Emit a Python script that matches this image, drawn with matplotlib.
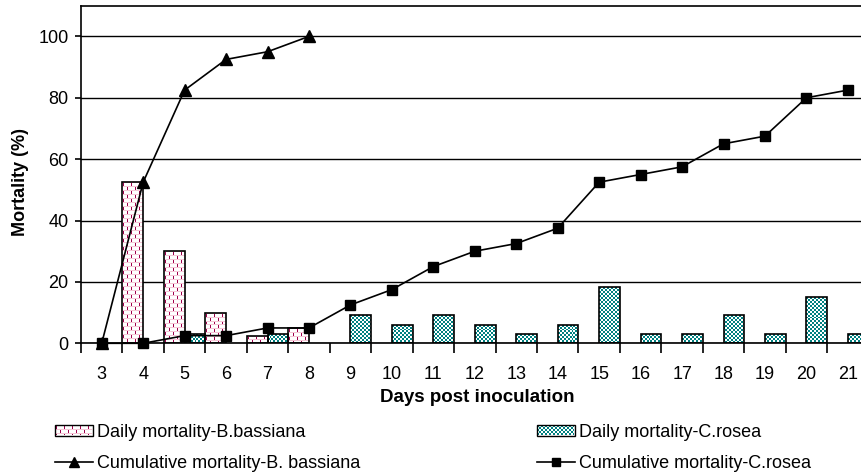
import numpy as np
import matplotlib
matplotlib.use("Agg")
import matplotlib.pyplot as plt
from matplotlib.lines import Line2D
from matplotlib.legend_handler import HandlerBase
from matplotlib.patches import Rectangle
from matplotlib.collections import PatchCollection

plt.rcParams['font.family'] = ['Liberation Sans', 'DejaVu Sans']

# ---- data ----
days = list(range(3, 22))
daily_bb = [0, 52.5, 30, 10, 2.5, 5, 0, 0, 0, 0, 0, 0, 0, 0, 0, 0, 0, 0, 0]
daily_cr = [0, 0, 3.0, 0, 3.0, 0, 9.1, 6.1, 9.1, 6.1, 3.0, 6.1, 18.2, 3.0,
            3.0, 9.1, 3.0, 15.2, 3.0]
cum_bb_days = [3, 4, 5, 6, 7, 8]
cum_bb = [0, 52.5, 82.5, 92.5, 95, 100]
cum_cr = [0, 0, 2.5, 2.5, 5, 5, 12.5, 17.5, 25, 30, 32.5, 37.5, 52.5, 55,
          57.5, 65, 67.5, 80, 82.5]

days = np.array(days)
daily_bb = np.array(daily_bb)
daily_cr = np.array(daily_cr)

WHITE = np.array([1.0, 1.0, 1.0])
PINK = np.array([0.96, 0.78, 0.84])
MAGENTA = np.array([0.62, 0.0, 0.30])
TEAL = np.array([0.0, 0.5, 0.5])


def pattern(kind, ncols, nrows):
    # pixel pattern, row 0 = top
    img = np.ones((nrows, ncols, 3))
    r, c = np.mgrid[0:nrows, 0:ncols]
    if kind == 'brick':
        img[r % 4 == 0] = PINK
        shift = np.where((r // 4) % 2 == 0, 1, 5)
        dash = (r % 4 != 0) & ((c - shift) % 8 == 0)
        img[dash] = MAGENTA
    else:
        chk = ((r // 2) + (c // 2)) % 2 == 0
        img[chk] = TEAL
    return img


fig = plt.figure(figsize=(8.61, 4.74), dpi=100)
ax = fig.add_axes([81 / 861, 130.7 / 474, 787.6 / 861, 337.6 / 474])
px_x = 787.6 / 19.0
px_y = 337.6 / 110.0


def patterned_bars(xs, hs, kind):
    rects, cols = [], []
    for x0, h in zip(xs, hs):
        if h <= 0:
            continue
        nc = int(round(0.5 * px_x))
        nr = max(1, int(round(h * px_y)))
        cw, ch = 0.5 / nc, h / nr
        img = pattern(kind, nc, nr)
        rects.append(Rectangle((x0, 0), 0.5, h))
        cols.append(WHITE)
        for i in range(nr):
            for j in range(nc):
                if np.allclose(img[i, j], WHITE):
                    continue
                rects.append(Rectangle((x0 + j * cw, h - (i + 1) * ch), cw, ch))
                cols.append(img[i, j])
        ax.bar(x0, h, width=0.5, align='edge', color='none',
               edgecolor='black', linewidth=1.2, zorder=3)
    pc = PatchCollection(rects, facecolors=cols, edgecolors='none',
                         antialiased=False, zorder=2)
    ax.add_collection(pc)


# B. bassiana daily on the left half, C. rosea on the right half
patterned_bars(days - 0.5, daily_bb, 'brick')
patterned_bars(days, daily_cr, 'check')

# cumulative lines
ax.plot(cum_bb_days, cum_bb, color='black', lw=1.2, marker='^', ms=9,
        zorder=4, clip_on=False)
ax.plot(days, cum_cr, color='black', lw=1.2, marker='s', ms=7.5,
        zorder=4, clip_on=False)

ax.set_xlim(2.5, 21.5)
ax.set_ylim(0, 110)
ax.set_yticks([0, 20, 40, 60, 80, 100])
ax.set_xticks(days)
ax.set_xticks(np.arange(2.5, 22, 1), minor=True)
ax.tick_params(axis='x', which='major', length=0, pad=16, labelsize=13)
ax.tick_params(axis='x', which='minor', length=7, width=1.2, direction='out')
ax.tick_params(axis='y', length=4, width=1.2, direction='out', labelsize=13, pad=5)
ax.yaxis.grid(True, color='black', lw=1.0, zorder=0)
ax.set_axisbelow(True)
for s in ['left', 'bottom', 'top']:
    ax.spines[s].set_linewidth(1.2)
ax.spines['right'].set_visible(False)

ax.set_ylabel('Mortality (%)', fontsize=13, fontweight='bold')
ax.set_xlabel('Days post inoculation', fontsize=13.5, fontweight='bold')
ax.yaxis.set_label_coords(-0.066, 0.478)
ax.xaxis.set_label_coords(0.503, -0.134)


class PatternHandle:
    def __init__(self, kind):
        self.kind = kind


class HandlerPattern(HandlerBase):
    def create_artists(self, legend, orig_handle, xdescent, ydescent,
                       width, height, fontsize, trans):
        cell = 0.72  # one pixel in points
        nc = int(width / cell)
        nr = int(height / cell)
        img = pattern(orig_handle.kind, nc, nr)
        arts = [Rectangle((-xdescent, -ydescent), width, height,
                          facecolor='white', edgecolor='none', transform=trans)]
        for i in range(nr):
            for j in range(nc):
                col = img[i, j]
                if np.allclose(col, WHITE):
                    continue
                arts.append(Rectangle((-xdescent + j * cell,
                                       -ydescent + height - (i + 1) * cell),
                                      cell, cell, facecolor=col,
                                      edgecolor='none', antialiased=False,
                                      transform=trans))
        arts.append(Rectangle((-xdescent, -ydescent), width, height,
                              facecolor='none', edgecolor='black', lw=1.0,
                              transform=trans))
        return arts


h_bb = PatternHandle('brick')
h_cr = PatternHandle('check')
l_bb = Line2D([], [], color='black', lw=1.2, marker='^', ms=7)
l_cr = Line2D([], [], color='black', lw=1.2, marker='s', ms=6)

kw = dict(frameon=False, fontsize=13, handlelength=2.1, handleheight=0.55,
          handletextpad=0.25, labelspacing=0.75, loc='upper left', borderpad=0,
          borderaxespad=0, handler_map={PatternHandle: HandlerPattern()})
fig.legend([h_bb, l_bb], ['Daily mortality-B.bassiana', 'Cumulative mortality-B. bassiana'],
           bbox_to_anchor=(55 / 861, 1 - 424 / 474), **kw)
fig.legend([h_cr, l_cr], ['Daily mortality-C.rosea', 'Cumulative mortality-C.rosea'],
           bbox_to_anchor=(537 / 861, 1 - 424 / 474), **kw)

fig.savefig('out.png', dpi=100)
